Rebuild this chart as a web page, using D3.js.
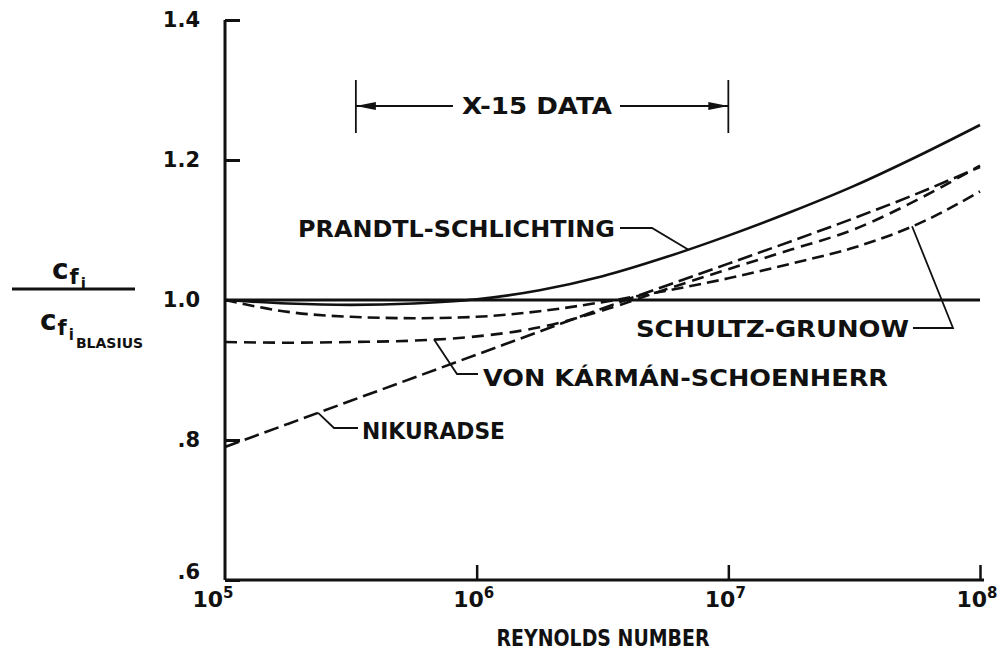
<!DOCTYPE html>
<html>
<head>
<meta charset="utf-8">
<script src="https://cdn.jsdelivr.net/npm/d3@7"></script>
<style>
  html, body { margin: 0; padding: 0; background: #fff; }
  svg { display: block; }
  text { font-family: "DejaVu Sans", "Liberation Sans", sans-serif; font-weight: bold; fill: #111; }
</style>
</head>
<body>
<svg id="chart" width="1002" height="654"></svg>
<script>
// Reynolds numbers (log10) at which each curve is sampled
const reLog = [5, 5.25, 5.5, 5.75, 6, 6.25, 6.5, 6.75, 7, 7.25, 7.5, 7.75, 8];

// Skin-friction ratio cf_i / cf_i,Blasius for each formula
const blasius            = [1.000, 1.000, 1.000, 1.000, 1.000, 1.000, 1.000, 1.000, 1.000, 1.000, 1.000, 1.000, 1.000];
const prandtlSchlichting = [1.000, 0.995, 0.993, 0.995, 1.001, 1.014, 1.034, 1.061, 1.092, 1.126, 1.163, 1.205, 1.250];
const schultzGrunow      = [1.000, 0.983, 0.976, 0.974, 0.976, 0.984, 0.997, 1.013, 1.031, 1.052, 1.075, 1.108, 1.155];
const vonKarmanSchoenherr= [0.940, 0.939, 0.940, 0.942, 0.948, 0.961, 0.985, 1.015, 1.044, 1.072, 1.101, 1.143, 1.192];
const nikuradse          = [0.790, 0.823, 0.856, 0.889, 0.922, 0.955, 0.988, 1.020, 1.052, 1.084, 1.117, 1.152, 1.190];

// Axis ticks
const yTicks = [0.6, 0.8, 1.0, 1.2, 1.4];
const yTickLabels = [".6", ".8", "1.0", "1.2", "1.4"];
const xTicks = [1e5, 1e6, 1e7, 1e8];
const xTickExps = ["5", "6", "7", "8"];

// Range of Reynolds numbers covered by the flight data
const x15Range = [Math.pow(10, 5.52), 1e7];

const svg = d3.select("#chart");

const x = d3.scaleLog().domain([1e5, 1e8]).range([225, 980]);
const y = d3.scaleLinear().domain([0.6, 1.4]).range([580, 20]);

// ---- axes ----
const yAxis = d3.axisLeft(y).tickValues(yTicks).tickSize(-15).tickFormat((d, i) => yTickLabels[i]).tickPadding(25);
const gy = svg.append("g").attr("transform", `translate(${x(1e5)},0)`).call(yAxis);
gy.select(".domain").attr("stroke", "#111").attr("stroke-width", 3).attr("d", `M0,${y(1.4)}V${y(0.6)}`);
gy.selectAll(".tick line").attr("stroke", "#111").attr("stroke-width", 3);
gy.selectAll(".tick text")
  .style("font-size", "21px")
  .style("font-family", "DejaVu Sans, sans-serif")
  .style("font-weight", "bold").attr("fill", "#111");
gy.selectAll(".tick").filter(d => d === 0.6).select("text").attr("dy", "-0.05em");

const xAxis = d3.axisBottom(x).tickValues(xTicks).tickSize(-15).tickFormat("");
const gx = svg.append("g").attr("transform", `translate(0,${y(0.6)})`).call(xAxis);
gx.select(".domain").attr("stroke", "#111").attr("stroke-width", 3).attr("d", `M${x(1e5)},0H${x(1e8) + 4}`);
gx.selectAll(".tick line").attr("stroke", "#111").attr("stroke-width", 2.5);
gx.selectAll(".tick").filter(d => d === 1e5).select("line").remove();

// decade labels with superscript exponents
const xl = svg.append("g");
xTicks.forEach((t, i) => {
  const shift = i === 0 ? -12 : -3;
  const tx = xl.append("text")
    .attr("x", x(t) + shift)
    .attr("y", 607)
    .attr("text-anchor", "middle")
    .style("font-size", "22px");
  tx.append("tspan").text("10");
  tx.append("tspan").attr("dy", -9).style("font-size", "15px").text(xTickExps[i]);
});

svg.append("text")
  .attr("x", 603).attr("y", 646)
  .attr("text-anchor", "middle")
  .attr("textLength", 213).attr("lengthAdjust", "spacingAndGlyphs")
  .style("font-size", "23px")
  .text("REYNOLDS NUMBER");

// ---- y-axis label: cf_i / cf_i BLASIUS ----
const yl = svg.append("g");
const num = yl.append("text").attr("x", 52).attr("y", 279).style("font-size", "28px");
num.append("tspan").text("c");
num.append("tspan").attr("dy", 5).attr("dx", 1).style("font-size", "21px").text("f");
num.append("tspan").attr("dy", 5).attr("dx", 2).style("font-size", "15px").text("i");
yl.append("line").attr("x1", 12).attr("x2", 135).attr("y1", 289).attr("y2", 289)
  .attr("stroke", "#111").attr("stroke-width", 3);
const den = yl.append("text").attr("x", 40).attr("y", 330).style("font-size", "28px");
den.append("tspan").text("c");
den.append("tspan").attr("dy", 5).attr("dx", 1).style("font-size", "21px").text("f");
den.append("tspan").attr("dy", 5).attr("dx", 2).style("font-size", "15px").text("i");
den.append("tspan").attr("dy", 8).attr("dx", 2).style("font-size", "14px").text("BLASIUS");

// ---- curves ----
const line = d3.line()
  .x((d, i) => x(Math.pow(10, reLog[i])))
  .y(d => y(d))
  .curve(d3.curveMonotoneX);

const curves = [
  { values: blasius,             width: 3.2, dash: null },
  { values: prandtlSchlichting,  width: 2.6, dash: null },
  { values: schultzGrunow,       width: 2.6, dash: "12,6" },
  { values: vonKarmanSchoenherr, width: 2.6, dash: "12,7" },
  { values: nikuradse,           width: 2.6, dash: "15,6" }
];

svg.append("g").selectAll("path")
  .data(curves)
  .join("path")
  .attr("d", c => line(c.values))
  .attr("fill", "none")
  .attr("stroke", "#111")
  .attr("stroke-width", c => c.width)
  .attr("stroke-dasharray", c => c.dash);

// ---- annotations ----
const ann = svg.append("g");
const lbl = (text, xPos, yPos, len) => ann.append("text")
  .attr("x", xPos).attr("y", yPos)
  .attr("textLength", len).attr("lengthAdjust", "spacingAndGlyphs")
  .style("font-size", "23px")
  .text(text);
const leader = pts => ann.append("path")
  .attr("d", d3.line()(pts))
  .attr("fill", "none").attr("stroke", "#111").attr("stroke-width", 1.8);

// point on a curve at a given log10 Reynolds number
const at = (vals, lg) => {
  const v = d3.scaleLinear().domain(reLog).range(vals)(lg);
  return [x(Math.pow(10, lg)), y(v)];
};

lbl("PRANDTL-SCHLICHTING", 298, 237, 317);
leader([[620, 228], [652, 228], at(prandtlSchlichting, 6.84)]);

lbl("SCHULTZ-GRUNOW", 636, 337, 273);
leader([[913, 328], [953, 328], at(schultzGrunow, 7.73)]);

lbl("VON KÁRMÁN-SCHOENHERR", 483, 386, 405);
leader([[478, 374], [457, 374], at(vonKarmanSchoenherr, 5.83)]);

lbl("NIKURADSE", 362, 439, 143);
leader([[358, 428], [334, 428], at(nikuradse, 5.37)]);

// flight data range marker
const yA = 106;
const xa = x(x15Range[0]), xb = x(x15Range[1]);
ann.append("line").attr("x1", xa).attr("x2", xa).attr("y1", 80).attr("y2", 133).attr("stroke", "#111").attr("stroke-width", 1.8);
ann.append("line").attr("x1", xb).attr("x2", xb).attr("y1", 80).attr("y2", 133).attr("stroke", "#111").attr("stroke-width", 1.8);
ann.append("line").attr("x1", xa).attr("x2", 453).attr("y1", yA).attr("y2", yA).attr("stroke", "#111").attr("stroke-width", 2.2);
ann.append("line").attr("x1", 620).attr("x2", xb).attr("y1", yA).attr("y2", yA).attr("stroke", "#111").attr("stroke-width", 2.2);
ann.append("path").attr("d", `M${xa},${yA}L${xa + 20},${yA - 4}L${xa + 20},${yA + 4}Z`).attr("fill", "#111");
ann.append("path").attr("d", `M${xb},${yA}L${xb - 20},${yA - 4}L${xb - 20},${yA + 4}Z`).attr("fill", "#111");
ann.append("text").attr("x", 537).attr("y", yA + 8)
  .attr("text-anchor", "middle")
  .attr("textLength", 150).attr("lengthAdjust", "spacingAndGlyphs")
  .style("font-size", "23px")
  .text("X-15 DATA");
</script>
</body>
</html>
